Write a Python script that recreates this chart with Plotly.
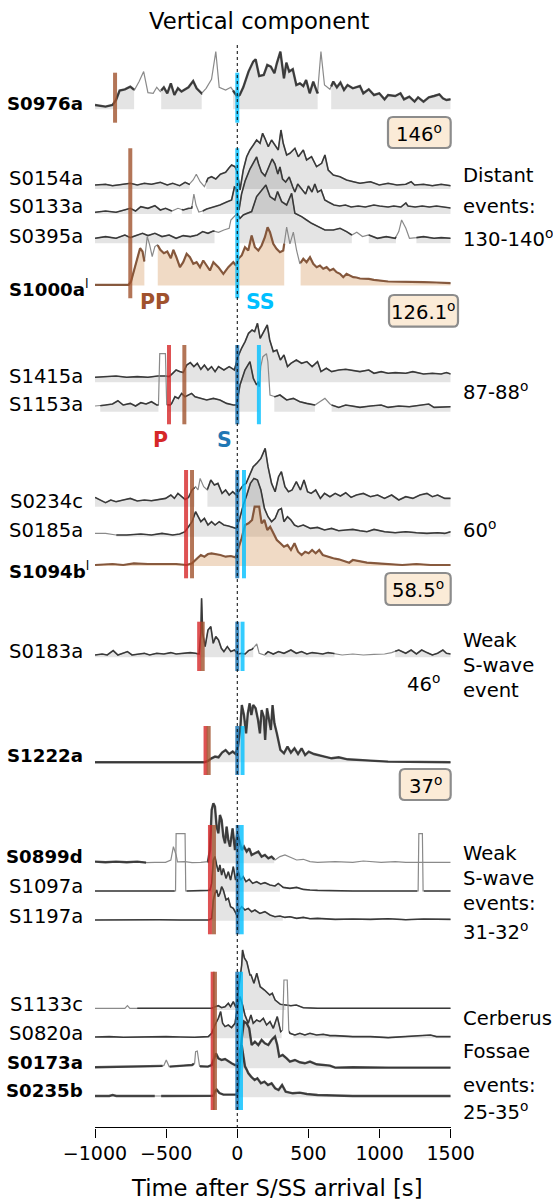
import numpy as np
import plotly.graph_objects as go

# ---------------------------------------------------------------------------
# Page geometry (pixels). Vertical data units are pixels measured from the top.
# ---------------------------------------------------------------------------
W, H = 553, 1201
AX_LEFT, AX_RIGHT = 95.0, 450.7
AX_BOTTOM = 1127.3
T_MIN, T_MAX = -1000, 1500
FONT = "DejaVu Sans"

# ---------------------------------------------------------------------------
# Envelope amplitudes (time [s], amplitude) for each event
# ---------------------------------------------------------------------------
ENV_S0976A = [(-1000,4.3),(-926,2.7),(-877,4.3),(-852,9.3),(-827,18.7),(-790,20),(-752,22.7),(-723,19.3),
    (-690,27.7),(-658,37.7),(-628,16.7),(-591,16),(-566,22),(-541,17.7),(-516,22),(-492,16),(-467,26),
    (-442,14.3),(-417,21),(-392,17.7),(-367,20),(-343,22),(-310,28.3),(-286,21),(-251,16),(-219,21),
    (-181,30),(-151,57.7),(-127,22),(-82,19.3),(-45,22),(-25,17.7),(0,12.7),(17,14.3),(42,22),(79,37.7),
    (112,47.7),(129,50),(154,33.3),(186,34.3),(211,44.3),(236,42.7),(261,36),(278,46),(303,57.7),(328,31),
    (345,46.7),(365,37.7),(390,40),(415,24.3),(440,26),(464,23.3),(484,29.3),(509,16),(534,27.7),(564,16),
    (588,57.7),(613,24.3),(651,20),(675,27.7),(700,22),(725,26.7),(750,19.3),(775,24.3),(812,21),(862,23.3),
    (886,16),(924,20),(961,14.3),(998,16),(1035,10),(1060,14.3),(1110,13.3),(1147,16),(1172,10),(1209,12.7),
    (1246,7.7),(1271,12),(1309,7.7),(1346,12),(1383,13.3),(1420,15),(1445,11),(1470,9.3),(1500,10)]

ENV_S0154A = [(-1000,4),(-926,4.7),(-877,3.3),(-814,4.7),(-752,5.7),(-703,4),(-653,5.7),(-603,4.7),(-541,6.7),
    (-492,4),(-454,5.7),(-405,3.3),(-367,6.7),(-338,4.7),(-310,9),(-288,14.7),(-261,7.3),(-231,2.3),(-206,10.7),
    (-181,12.3),(-151,10),(-119,14.7),(-82,16.7),(-57,21.3),(-40,24),(-16,22.3),(0,17.3),(19,-1),(42,19),
    (66,32.3),(89,39),(113,44),(136,49),(160,45.7),(178,55.7),(194,50.7),(218,42.3),(241,49),(265,44),(288,39),
    (307,59),(323,45.7),(347,34),(370,35.7),(405,40.7),(429,32.3),(464,39),(487,29),(522,32.3),(557,22.3),
    (593,25.7),(616,34),(639,19),(675,14),(722,12.3),(768,9),(815,7.3),(862,5.7),(936,7.3),(998,4),(1060,5.7),
    (1122,4),(1184,4.7),(1222,7.3),(1246,4),(1309,4.7),(1371,3.3),(1433,4.7),(1500,3.3)]

ENV_S0133A = [(-1000,1.7),(-926,3),(-852,1.7),(-790,4),(-752,5.7),(-715,3),(-678,7.3),(-628,5.7),(-579,8.3),
    (-541,4),(-504,5.7),(-460,3),(-417,5.7),(-380,4),(-343,5.7),(-320,6),(-305,20),(-290,9),(-270,2),(-243,3),
    (-215,5),(-168,7),(-122,9),(-75,12),(-40,14),(-20,27),(-8,26),(0,17),(12,4),(30,20),(55,33),(89,45),
    (118,53),(136,57),(150,50),(170,42),(195,38),(220,46),(245,55),(265,50),(285,40),(300,47),(318,35),
    (340,32),(365,37),(390,27),(405,22),(425,30),(450,25),(480,20),(500,28),(525,22),(545,30),(565,22),
    (590,24),(615,14),(640,12),(680,9),(720,8),(760,9),(800,7),(850,8),(900,7),(960,9),(1000,8),(1060,7),
    (1100,8),(1150,7),(1185,11),(1200,8),(1250,7),(1300,8),(1350,7),(1400,8),(1450,7),(1500,6)]

ENV_S0395A = [(-1000,5),(-926,6.7),(-852,5),(-790,8.3),(-752,5.7),(-703,8.3),(-666,10),(-628,7.7),(-579,10),
    (-529,6.7),(-479,8.3),(-430,5),(-380,7.7),(-330,6.7),(-281,8.3),(-243,11.7),(-206,10),(-169,12.3),
    (-132,11),(-94,13.3),(-57,15),(-45,23.3),(-20,26.7),(0,30),(19,25),(42,28.3),(66,30),(101,31.7),
    (136,46.7),(171,53.3),(201,58.3),(230,46.7),(264,43.3),(283,51.7),(312,41.7),(347,38.3),(382,50),
    (405,30),(452,26.7),(487,23.3),(522,20),(569,16.7),(616,13.3),(675,13.3),(722,15),(768,11.7),(805,8.3),
    (840,11),(880,6.7),(924,8.3),(985,5),(1047,6.7),(1110,5),(1135,11.7),(1155,23.3),(1185,15),(1210,5),
    (1259,5.7),(1309,6.7),(1383,5),(1433,5.7),(1500,5)]

ENV_S1000A = [(-1000,0.7),(-764,0.7),(-747,4),(-727,14),(-703,27.3),(-683,37.3),(-666,34),(-653,24),(-633,49),
    (-616,40.7),(-598,29),(-579,39),(-561,40.7),(-541,35.7),(-516,32.3),(-492,34),(-467,27.3),(-449,35.7),
    (-430,29),(-403,18.3),(-380,23.3),(-356,31.7),(-333,28.3),(-309,21.7),(-286,23.3),(-262,18.3),(-239,25),
    (-215,20),(-192,15),(-168,23.3),(-133,18.3),(-98,11.7),(-63,18.3),(-28,23.3),(-9,20),(7,26.7),(31,30),
    (54,38.3),(77,35),(101,50),(124,38.3),(148,35),(171,40),(194,48.3),(213,58.3),(230,53.3),(253,41.7),
    (276,36.7),(300,33.3),(323,35),(347,58.3),(370,41.7),(394,53.3),(417,35),(440,21.7),(464,26.7),(487,23.3),
    (511,28.3),(534,21.7),(558,18.3),(581,20),(604,16.7),(628,18.3),(651,15),(675,16.7),(698,13.3),(722,11.7),
    (745,8.3),(768,11.7),(792,10),(815,8.3),(838,8),(862,7),(924,6.7),(960,5.7),(1060,4),(1184,4),(1309,3.3),
    (1400,3),(1500,2.3)]

ENV_S1415A = [(-1000,5),(-926,5.7),(-852,6.3),(-777,5),(-703,5.7),(-628,5),(-559,6.3),(-504,6.3),(-479,5.7),
    (-454,9),(-430,12.3),(-405,10.7),(-380,9.7),(-355,17.3),(-330,19.7),(-305,15.7),(-281,19),(-256,13),
    (-231,17.3),(-206,12.3),(-181,15.7),(-156,10.7),(-132,15.7),(-94,12.3),(-57,15.7),(-20,12.3),(5,25.7),
    (30,34),(55,40.7),(79,49),(104,52.3),(122,50.7),(142,59),(161,44),(186,50.7),(211,57.3),(228,42.3),
    (253,30.7),(278,32.3),(303,22.3),(328,27.3),(353,15.7),(377,19),(415,22.3),(452,19),(489,20.7),(526,15.7),
    (564,20.7),(588,10.7),(626,14),(663,10.7),(713,12.3),(762,13),(812,11.7),(862,10.7),(924,12.3),(961,9),
    (1011,10.7),(1060,9),(1110,9.7),(1184,9),(1234,10.7),(1309,8.3),(1371,9),(1433,8.3),(1470,9.7),(1500,8.3)]

ENV_S1153A = [(-1000,5.7),(-963,6),(-926,6.7),(-877,7.7),(-839,11),(-802,6.7),(-752,8.3),(-715,5.7),(-678,9),
    (-641,7.7),(-603,10),(-566,6.7),(-554,6.7),(-545,58),(-505,58),(-496,7),(-470,6.7),(-461,8.3),(-438,15),
    (-414,13.3),(-391,18.3),(-367,15),(-344,16.7),(-321,18.3),(-297,15),(-262,13.3),(-215,11.7),(-168,13.3),
    (-122,11.7),(-75,8.3),(-28,6.7),(-5,6.7),(19,26.7),(54,41.7),(77,46.7),(89,50),(113,33.3),(136,26.7),
    (148,30),(155,25),(165,45),(180,55),(205,58),(215,50),(230,16.7),(265,15),(300,16.7),(347,11.7),(394,13.3),
    (440,10),(487,8.3),(535,6.7),(546,6.7),(580,10),(616,13.3),(650,8),(663,6.7),(713,4.3),(762,6.7),(812,5.7),
    (862,4.3),(936,5.7),(1011,6.7),(1060,4.3),(1135,5.7),(1209,5),(1284,6.7),(1346,7.7),(1383,4.3),(1500,5)]

ENV_S0234C = [(-1000,9.3),(-963,6.7),(-926,4),(-889,6.7),(-852,5),(-802,6.7),(-752,8.3),(-703,5.7),(-653,6.7),
    (-603,6),(-554,7.3),(-504,8.3),(-467,11.7),(-442,8.3),(-417,13.3),(-392,10.7),(-367,7.3),(-343,9.3),
    (-318,16.7),(-293,20),(-276,16.7),(-261,28.3),(-236,20),(-211,16.7),(-186,26.7),(-161,21.7),(-136,23.3),
    (-107,13.3),(-82,16.7),(-57,11.7),(-32,15),(-7,11.7),(17,16.7),(42,21.7),(62,23.3),(87,31.7),(112,40),
    (136,43.3),(166,48.3),(196,58.3),(216,40),(241,23.3),(266,15),(290,30),(310,35),(335,20),(360,15),
    (385,16.7),(415,25),(444,16.7),(469,26.7),(494,15),(519,13.3),(551,16.7),(584,8.3),(613,13.3),(651,10),
    (688,13.3),(725,10.7),(762,14),(800,9.3),(837,11.7),(886,13.3),(936,10),(986,11.7),(1035,8.3),(1085,11.7),
    (1135,6.7),(1184,10),(1234,8.3),(1284,11.7),(1333,13.3),(1371,10),(1408,11.7),(1458,8.3),(1500,8.3)]

ENV_S0185A = [(-1000,3.3),(-926,3.3),(-852,1.7),(-777,1.7),(-678,2.7),(-603,1.7),(-529,3.3),(-454,1.7),
    (-405,2.7),(-367,5),(-343,10),(-318,15),(-293,25),(-276,20),(-256,15),(-231,18.3),(-206,11.7),(-181,15),
    (-156,11.7),(-127,15),(-94,11.7),(-62,10.7),(-32,9.3),(-7,8.3),(17,18.3),(42,31.7),(67,41.7),(92,53.3),
    (117,58.3),(142,56.7),(166,46.7),(191,28.3),(216,20),(241,15),(266,18.3),(290,26.7),(310,28.3),(328,15),
    (353,20),(377,16.7),(402,11.7),(427,10),(464,11.7),(514,8.3),(564,9.3),(613,6.7),(663,8.3),(713,6),
    (762,6.7),(812,7.3),(862,6),(911,5),(961,7.3),(1035,5),(1110,4),(1184,5),(1259,4),(1333,3.3),(1408,4),
    (1458,3.3),(1500,5)]

ENV_S1094B = [(-1000,1),(-877,2),(-802,1),(-727,2.7),(-628,2),(-529,1.7),(-430,2),(-355,1),(-318,2.7),
    (-281,7.7),(-256,11),(-231,9.3),(-206,12),(-181,12.7),(-151,12),(-119,11),(-82,9.3),(-45,10),(-12,8.7),
    (5,16),(30,27.7),(55,41),(79,42.7),(104,46),(122,59.3),(154,59.3),(171,42.7),(191,46),(211,36),(231,39.3),
    (253,32.7),(278,26),(303,22.7),(328,19.3),(353,21),(377,16),(402,22.7),(427,14.3),(452,11),(477,14.3),
    (502,12.7),(526,16),(551,12.7),(576,16),(601,11),(638,9.3),(675,7.7),(713,6.7),(750,5.3),(787,3.3),
    (812,6),(862,4.3),(911,3.3),(986,2.7),(1060,2),(1159,1),(1259,2),(1358,1),(1500,1)]

ENV_S0183A = [(-1000,2.3),(-950,3.3),(-914,2.3),(-872,6.7),(-839,2.3),(-802,4),(-772,5.7),(-740,2.3),(-690,3.3),
    (-653,4),(-616,2.3),(-566,4),(-516,3.3),(-467,4.7),(-430,3.3),(-380,4),(-330,4.7),(-293,4),(-268,3.3),
    (-256,25),(-251,59),(-243,24),(-226,10.7),(-206,27.3),(-186,30.7),(-169,14),(-151,20.7),(-132,17.3),
    (-112,9),(-94,5.7),(-70,10.7),(-45,5.7),(-20,7.3),(5,3.3),(30,4),(55,3.3),(79,6.7),(104,8),(137,13.3),
    (154,4),(191,2.3),(216,5.7),(253,3.3),(290,5.7),(328,4),(377,7.3),(415,4),(452,5.7),(489,3.3),(526,4.7),
    (564,4),(601,3.3),(638,4.7),(675,4),(737,2.3),(812,3.3),(886,2.3),(961,3),(1035,3.3),(1085,4.7),
    (1135,7.3),(1184,4),(1222,7.3),(1259,3.3),(1296,7.3),(1333,4.7),(1371,2.3),(1408,4),(1445,7.3),(1470,4),
    (1500,3.3)]

ENV_S1222A = [(-1000,0),(-231,0),(-206,1.3),(-181,4),(-156,5.7),(-132,5),(-107,9.7),(-82,12.3),(-57,8.3),
    (-32,10.7),(-12,8.3),(5,15.7),(22,35.7),(32,57.3),(47,47.3),(62,29),(74,49),(87,59),(99,47.3),(112,57.3),
    (129,54),(146,42.3),(159,29),(171,52.3),(186,45.7),(196,22.3),(209,54),(221,45.7),(236,32.3),(248,57.3),
    (261,39),(278,29),(303,12.3),(328,9),(353,15.7),(377,9.7),(402,14),(427,8.3),(452,14),(477,7.3),(502,10.7),
    (539,8.3),(576,7.3),(613,5.7),(663,4),(713,5),(775,3),(837,2.3),(936,1.7),(1060,0.7),(1184,0.7),(1309,0),
    (1500,0)]

ENV_S0899D = [(-1000,1.7),(-926,1),(-852,1.7),(-777,1),(-703,1.7),(-641,0.7),(-579,1),(-504,1),(-467,3.3),
    (-449,16.7),(-430,8.3),(-420,1.5),(-367,1.7),(-318,0.7),(-256,1),(-206,1.7),(-192,13.3),(-180,53.3),
    (-168,60),(-157,56.7),(-145,36.7),(-133,30),(-122,48.3),(-110,43.3),(-98,26.7),(-86,20),(-75,36.7),
    (-63,23.3),(-51,16.7),(-33,35),(-16,13.3),(0,30),(14,23.3),(31,13.3),(47,16.7),(66,11.7),(84,15),(101,8.3),
    (124,10),(148,11.7),(171,6.7),(194,8.3),(218,5),(241,6.7),(265,3.3),(300,6.7),(335,8.3),(370,6),(417,3.3),
    (464,4),(511,1.7),(564,1),(688,1.7),(812,1),(886,2.3),(1011,1),(1110,1.7),(1184,1),(1271,1),(1408,1.7),
    (1500,1)]

ENV_S1097A = [(-1000,0.7),(-678,0.7),(-434,0.7),(-430,58),(-367,58),(-362,0.7),(-281,0.7),(-206,1.3),
    (-192,1.7),(-180,8.3),(-168,31.7),(-157,35),(-145,26.7),(-133,20),(-122,26.7),(-110,16.7),(-98,23.3),
    (-79,13.3),(-63,20),(-47,11.7),(-28,25),(-12,11.7),(7,20),(24,11.7),(42,15),(61,10),(84,12.3),(108,8.3),
    (136,10),(164,7.7),(194,9),(230,6.7),(265,5.7),(288,8.3),(323,4.3),(370,3.3),(417,4.3),(464,2.3),(511,1.7),
    (564,1.3),(812,0.7),(1060,0.7),(1271,0.7),(1276,58),(1301,58),(1306,0.7),(1500,0.7)]

ENV_S1197A = [(-1000,0.7),(-850,1),(-700,0.7),(-550,1),(-400,0.7),(-250,1),(-200,0.7),(-180,2.3),(-168,20.7),
    (-157,27.3),(-145,30.7),(-133,24),(-122,27.3),(-110,34),(-98,30.7),(-79,20.7),(-63,22.3),(-47,14),
    (-28,12.3),(-9,7.3),(0,4),(14,10.7),(31,14),(54,10.7),(77,12.3),(101,9),(124,10.7),(159,7.3),(194,9),
    (230,5.7),(265,4),(300,4.7),(335,3.3),(370,4),(417,2.3),(464,3.3),(511,2),(564,2.3),(688,1.3),(812,1.7),
    (936,1.3),(1060,2),(1184,1),(1309,1.7),(1433,1.3),(1500,1.3)]

ENV_S1133C = [(-1000,1.7),(-850,1.7),(-790,1.7),(-772,4.3),(-755,1.7),(-703,1.7),(-500,1.7),(-200,1.7),
    (-180,1.7),(-157,3.3),(-133,4.3),(-110,2.3),(-86,3.3),(-63,6.7),(-47,3.3),(-28,8.3),(-9,2.3),(7,18.3),
    (19,31.7),(31,45),(37,60),(50,52),(67,48.3),(89,35),(97,35),(117,26.7),(137,36.7),(161,23.3),(191,20),
    (228,15),(246,16.7),(266,10),(303,5.7),(340,5),(377,4.3),(415,5),(464,2.3),(564,1.7),(812,1.7),(1060,1.7),
    (1309,1.7),(1500,1.7)]

ENV_S0820A = [(-1000,1.3),(-900,1.7),(-800,1),(-700,1.3),(-600,1),(-500,1.7),(-400,1.3),(-300,1),(-204,1.7),
    (-180,5),(-157,13.3),(-133,20),(-117,26.7),(-103,15),(-86,11.7),(-63,13.3),(-40,10.7),(-16,15),(0,30),
    (19,41.7),(37,33.3),(54,23.3),(77,15),(96,23.3),(112,15),(136,18.3),(159,16.7),(183,20),(206,13.3),
    (230,16.7),(253,10),(281,21.7),(305,6.7),(318,8),(328,58.3),(351,58.3),(362,8),(370,5),(405,3.3),(440,5),
    (475,3.3),(511,5),(557,3.3),(604,4),(651,2.7),(688,2.7),(812,1.7),(936,1.7),(1060,0.7),(1184,1.7),
    (1358,3.3),(1400,1.7),(1500,1.7)]

ENV_S0173A = [(-1000,1),(-900,1.3),(-802,1.7),(-700,1.3),(-628,1.7),(-540,2),(-516,2.7),(-499,8.3),(-479,1.7),
    (-420,2),(-380,2.7),(-318,3.3),(-300,5),(-293,16.7),(-281,17.3),(-265,2),(-206,1.7),(-180,3.3),(-164,10),
    (-150,15),(-133,10),(-110,8.3),(-86,9.3),(-63,6.7),(-40,5),(-16,3.3),(0,3.3),(19,6.7),(31,30),(47,46.7),
    (66,45),(84,40),(101,23.3),(124,26.7),(148,23.3),(171,28.3),(194,25),(218,23.3),(241,28.3),(265,31.7),
    (281,23.3),(295,11.7),(319,13.3),(347,10),(370,6.7),(405,8.3),(440,6),(475,5),(511,6.7),(557,4),(604,3.3),
    (651,2.7),(688,0.7),(812,1),(1060,0.7),(1309,1),(1500,0.7)]

ENV_S0235B = [(-1000,1.3),(-900,1.3),(-876,2.3),(-850,1.3),(-700,1.3),(-600,1.3),(-500,1.3),(-400,1.3),
    (-300,1.3),(-180,1.3),(-168,1.5),(-157,6),(-145,7.7),(-126,4.3),(-98,2.7),(-51,2.7),(-5,2.7),(7,7.7),
    (14,31),(22,47.7),(31,52),(42,42),(54,31),(66,27.7),(77,24.3),(97,20.7),(122,17.3),(141,19),(166,14),
    (191,15.7),(216,12.3),(241,14),(266,9),(290,7.3),(315,12.3),(340,5.7),(390,4),(439,4.7),(489,3.3),
    (564,2.3),(812,1.3),(1060,1.3),(1500,1.3)]

# ---------------------------------------------------------------------------
# Event table: name, bold label, colour scheme, envelope, baseline row,
# label row, spans drawn in dark, spans filled
# ---------------------------------------------------------------------------
FULL = [(-1000, 1500)]
EVENTS = [
    dict(name="S0976a", bold=True, kind="gray", env=ENV_S0976A, base=109.3, ly=103,
         dark=[(-1000,-725),(-535,-250),(-30,565),(660,1500)], fill=[(-1000,-725),(-535,-250),(-30,565),(660,1500)]),
    dict(name="S0154a", bold=False, kind="gray", env=ENV_S0154A, base=189, ly=178.3,
         dark=[(-1000,-335),(-218,1500)], fill=[(-1000,-335),(-218,1500)]),
    dict(name="S0133a", bold=False, kind="gray", env=ENV_S0133A, base=214, ly=206.7,
         dark=[(-1000,-460),(-390,-318),(-243,1500)], fill=[(-1000,-460),(-390,-318),(-243,1500)]),
    dict(name="S0395a", bold=False, kind="gray", env=ENV_S0395A, base=243.3, ly=236.7,
         dark=[(-1000,-160),(0,805),(924,1115),(1259,1500)], fill=[(-1000,-160),(0,805),(924,1115),(1259,1500)]),
    dict(name="S1000a", bold=True, kind="brown", env=ENV_S1000A, base=285.5, ly=288.3, sup="l",
         dark=[(-1000,-653),(-559,330),(445,1500)], fill=[(-1000,-653),(-559,330),(445,1500)]),
    dict(name="S1415a", bold=False, kind="gray", env=ENV_S1415A, base=382.3, ly=376,
         dark=FULL, fill=FULL),
    dict(name="S1153a", bold=False, kind="gray", env=ENV_S1153A, base=411.7, ly=405,
         dark=[(-963,-554),(-490,155),(260,546),(663,1500)], fill=[(-963,-554),(-490,155),(260,546),(663,1500)]),
    dict(name="S0234c", bold=False, kind="gray", env=ENV_S0234C, base=506.7, ly=501,
         dark=[(-1000,-300),(-210,1500)], fill=[(-1000,-300),(-210,1500)]),
    dict(name="S0185a", bold=False, kind="gray", env=ENV_S0185A, base=536.7, ly=530,
         dark=[(-850,1500)], fill=[(-850,1500)]),
    dict(name="S1094b", bold=True, kind="brown", env=ENV_S1094B, base=566, ly=570, sup="l",
         dark=FULL, fill=FULL),
    dict(name="S0183a", bold=False, kind="gray", env=ENV_S0183A, base=657.3, ly=651.7,
         dark=[(-1000,112),(196,683),(1110,1500)], fill=[(-1000,112),(196,683),(1110,1500)]),
    dict(name="S1222a", bold=True, kind="gray", env=ENV_S1222A, base=762.3, ly=756,
         dark=FULL, fill=FULL),
    dict(name="S0899d", bold=True, kind="gray", env=ENV_S0899D, base=863.3, ly=856.7,
         dark=[(-1000,-641),(-210,260)], fill=[(-210,260)]),
    dict(name="S1097a", bold=False, kind="gray", env=ENV_S1097A, base=891.7, ly=886.7,
         dark=[(-1000,-440),(-356,1265),(1312,1500)], fill=[(-200,300)]),
    dict(name="S1197a", bold=False, kind="gray", env=ENV_S1197A, base=920.7, ly=916,
         dark=FULL, fill=[(-195,320)]),
    dict(name="S1133c", bold=False, kind="gray", env=ENV_S1133C, base=1010, ly=1004,
         dark=[(-703,1500)], fill=[(-186,340)]),
    dict(name="S0820a", bold=False, kind="gray", env=ENV_S0820A, base=1038.3, ly=1033.3,
         dark=[(-1000,312),(365,1500)], fill=[(-200,312),(394,1500)]),
    dict(name="S0173a", bold=True, kind="gray", env=ENV_S0173A, base=1068.3, ly=1062.3,
         dark=[(-1000,-525),(-475,-305),(-262,1500)], fill=[(-190,1500)]),
    dict(name="S0235b", bold=True, kind="gray", env=ENV_S0235B, base=1097.3, ly=1090.7,
         dark=[(-1000,-580),(-535,1500)], fill=[(0,1500)]),
]

# Phase picks per group: (top row, bottom row, [(phase, time)])
PICKS = [
    (72.7, 122.7, [("PP", -859), ("SS", 0)]),
    (148.3, 298.3, [("PP", -752), ("SS", 0)]),
    (345.0, 424.3, [("P", -480), ("PP", -372), ("S", 0), ("SS", 152)]),
    (470.0, 578.3, [("P", -360), ("PP", -318), ("S", 0), ("SS", 47)]),
    (621.7, 671.0, [("P", -268), ("PP", -243), ("S", 0), ("SS", 37)]),
    (726.0, 775.0, [("P", -223), ("PP", -201), ("S", 0), ("SS", 37)]),
    (825.0, 934.3, [("P", -192), ("PP", -164), ("S", 3), ("SS", 31)]),
    (971.7, 1110.0, [("P", -173), ("PP", -157), ("S", 0), ("SS", 26)]),
]
PHASE_COLOR = {"P": "rgba(214,39,40,0.8)", "PP": "rgba(160,82,45,0.8)",
               "S": "rgba(31,119,180,0.85)", "SS": "rgba(0,191,255,0.8)"}
PHASE_ORDER = ["P", "PP", "S", "SS"]

# Right-hand group captions: (text, row, x-pixel, anchor)
GROUP_TEXT = [
    ("Distant", 175, 460.6, "left"), ("events:", 206.7, 460.6, "left"), ("130-140<sup>o</sup>", 238.3, 460.6, "left"),
    ("87-88<sup>o</sup>", 391, 460.6, "left"),
    ("60<sup>o</sup>", 529.3, 460.6, "left"),
    ("Weak", 640.7, 460.6, "left"), ("S-wave", 665.7, 460.6, "left"), ("event", 690, 460.6, "left"),
    ("46<sup>o</sup>", 683.3, 423.5, "center"),
    ("Weak", 853.3, 460.6, "left"), ("S-wave", 878.3, 460.6, "left"), ("events:", 903.3, 460.6, "left"),
    ("31-32<sup>o</sup>", 931, 460.6, "left"),
    ("Cerberus", 1018.3, 460.6, "left"), ("Fossae", 1051, 460.6, "left"), ("events:", 1085, 460.6, "left"),
    ("25-35<sup>o</sup>", 1110.7, 460.6, "left"),
]
# Epicentral distance boxes: (text, x0, y0, x1, y1) in pixels
DIST_BOX = [("146<sup>o</sup>", 388, 117, 450.7, 148),
            ("126.1<sup>o</sup>", 389, 295, 458, 326.7),
            ("58.5<sup>o</sup>", 385.4, 573, 450.7, 605),
            ("37<sup>o</sup>", 399.8, 769, 450.7, 800)]
# Phase name labels: (text, phase, time, row)
PHASE_LABELS = [("PP", "PP", -581, 301.7), ("SS", "SS", 162, 301.7),
                ("P", "P", -539, 440), ("S", "S", -92, 440)]
PHASE_TEXT_COLOR = {"P": "#d62728", "PP": "#a0522d", "S": "#1f77b4", "SS": "#00bfff"}

TICKS = [-1000, -500, 0, 500, 1000, 1500]


def px(x):
    return x / W


def py(y):
    return 1 - y / H


def span_points(env, a, b):
    t = np.array([p[0] for p in env], dtype=float)
    v = np.array([p[1] for p in env], dtype=float)
    inside = (t > a) & (t < b)
    ts = np.concatenate([[a], t[inside], [b]])
    return ts, np.interp(ts, t, v)


def rounded_box(x0, y0, x1, y1, r=5):
    X = lambda v: f"{px(v):.5f}"
    Y = lambda v: f"{py(v):.5f}"
    return (f"M {X(x0 + r)},{Y(y0)} L {X(x1 - r)},{Y(y0)} Q {X(x1)},{Y(y0)} {X(x1)},{Y(y0 + r)} "
            f"L {X(x1)},{Y(y1 - r)} Q {X(x1)},{Y(y1)} {X(x1 - r)},{Y(y1)} "
            f"L {X(x0 + r)},{Y(y1)} Q {X(x0)},{Y(y1)} {X(x0)},{Y(y1 - r)} "
            f"L {X(x0)},{Y(y0 + r)} Q {X(x0)},{Y(y0)} {X(x0 + r)},{Y(y0)} Z")


fig = go.Figure()

# filled envelopes
for ev in EVENTS:
    fc = "rgba(205,133,63,0.3)" if ev["kind"] == "brown" else "rgba(0,0,0,0.105)"
    xs, ys = [], []
    for a, b in ev["fill"]:
        ts, vs = span_points(ev["env"], a, b)
        xs += list(ts) + [b, a, None]
        ys += list(ev["base"] - vs) + [ev["base"], ev["base"], None]
    fig.add_trace(go.Scatter(x=xs, y=ys, mode="lines", fill="toself", fillcolor=fc,
                             line=dict(width=0), hoverinfo="skip", showlegend=False))

# envelope curves: thin grey everywhere, dark on the retained spans
for ev in EVENTS:
    t = [p[0] for p in ev["env"]]
    v = [ev["base"] - p[1] for p in ev["env"]]
    fig.add_trace(go.Scatter(x=t, y=v, mode="lines", line=dict(color="#8a8a8a", width=1.2),
                             hoverinfo="skip", showlegend=False))
    xs, ys = [], []
    for a, b in ev["dark"]:
        ts, vs = span_points(ev["env"], a, b)
        xs += list(ts) + [None]
        ys += list(ev["base"] - vs) + [None]
    if ev["kind"] == "brown":
        col, lw = "rgba(130,80,50,0.9)", 2.2
    else:
        col, lw = "rgba(35,35,35,0.8)", (2.4 if ev["bold"] else 1.6)
    fig.add_trace(go.Scatter(x=xs, y=ys, mode="lines", line=dict(color=col, width=lw),
                             hoverinfo="skip", showlegend=False))

# phase picks
for top, bot, picks in PICKS:
    for ph in PHASE_ORDER:
        for name, tt in picks:
            if name == ph:
                fig.add_trace(go.Scatter(x=[tt, tt], y=[top, bot], mode="lines",
                                         line=dict(color=PHASE_COLOR[ph], width=4),
                                         hoverinfo="skip", showlegend=False))

# reference time
fig.add_trace(go.Scatter(x=[0, 0], y=[45, AX_BOTTOM], mode="lines",
                         line=dict(color="black", width=1, dash="dot"),
                         hoverinfo="skip", showlegend=False))

ann = []
for ev in EVENTS:
    if ev["bold"]:
        txt = f"<b>{ev['name']}</b>"
        size = 18.2
    else:
        txt = ev["name"]
        size = 19.6
    if ev.get("sup"):
        txt += f"<sup>{ev['sup']}</sup>"
    ann.append(dict(x=px(85.4) if not ev.get("sup") else px(91), y=py(ev["ly"]), xref="paper", yref="paper",
                    text=txt, showarrow=False, xanchor="right", yanchor="middle",
                    font=dict(family=FONT, size=size, color="black")))

for txt, row, xp, anc in GROUP_TEXT:
    ann.append(dict(x=px(xp), y=py(row), xref="paper", yref="paper", text=txt, showarrow=False,
                    xanchor=anc, yanchor="middle", font=dict(family=FONT, size=19.6, color="black")))

shapes = []
for txt, x0, y0, x1, y1 in DIST_BOX:
    shapes.append(dict(type="path", xref="paper", yref="paper", path=rounded_box(x0, y0, x1, y1),
                       fillcolor="#fbebd7", line=dict(color="#8c8c8c", width=2.2), layer="above"))
    ann.append(dict(x=px((x0 + x1) / 2), y=py((y0 + y1) / 2), xref="paper", yref="paper", text=txt,
                    showarrow=False, xanchor="center", yanchor="middle",
                    font=dict(family=FONT, size=19.6, color="black")))

for txt, ph, tt, row in PHASE_LABELS:
    ann.append(dict(x=tt, y=row, xref="x", yref="y", text=f"<b>{txt}</b>", showarrow=False,
                    xanchor="center", yanchor="middle",
                    font=dict(family=FONT, size=20.5, color=PHASE_TEXT_COLOR[ph])))

ann.append(dict(x=px(259.2), y=py(20.7), xref="paper", yref="paper", text="Vertical component",
                showarrow=False, xanchor="center", yanchor="middle",
                font=dict(family=FONT, size=22.7, color="black")))
ann.append(dict(x=px(277), y=py(1187.5), xref="paper", yref="paper", text="Time after S/SS arrival [s]",
                showarrow=False, xanchor="center", yanchor="middle",
                font=dict(family=FONT, size=22.7, color="black")))

fig.update_layout(
    width=W, height=H, margin=dict(l=0, r=0, t=0, b=0, pad=0, autoexpand=False),
    paper_bgcolor="white", plot_bgcolor="white",
    font=dict(family=FONT, color="black"),
    showlegend=False, annotations=ann, shapes=shapes,
    xaxis=dict(domain=[px(AX_LEFT), px(AX_RIGHT)], range=[T_MIN, T_MAX], showgrid=False, zeroline=False,
               showline=True, linecolor="black", linewidth=1.4, ticks="outside", ticklen=9, tickwidth=1.4,
               tickcolor="black", tickvals=TICKS, tickfont=dict(family=FONT, size=19, color="black"),
               automargin=False, fixedrange=True),
    yaxis=dict(domain=[1 - AX_BOTTOM / H, 1], range=[AX_BOTTOM, 0], visible=False, automargin=False,
               fixedrange=True),
)

fig.write_html("out.html")
